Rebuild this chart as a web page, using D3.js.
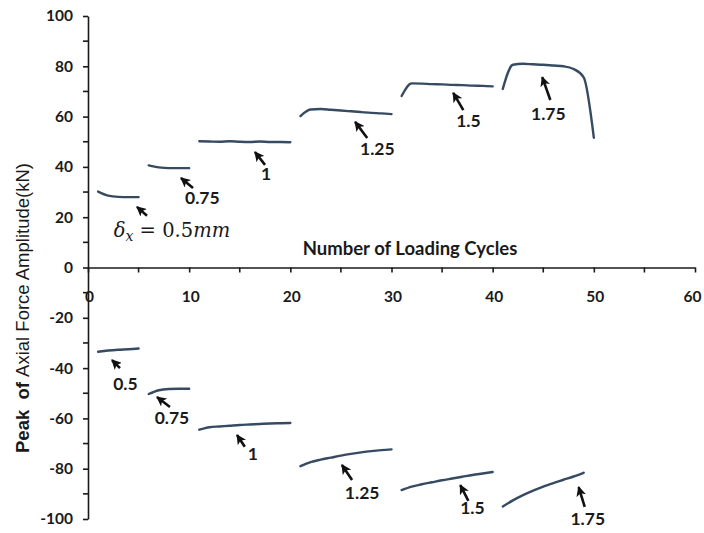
<!DOCTYPE html>
<html>
<head>
<meta charset="utf-8">
<script src="https://cdn.jsdelivr.net/npm/d3@7"></script>
<style>
  html, body { margin: 0; padding: 0; background: #fff; }
  svg { display: block; }
  .tick text { font-family: Lato, "Open Sans", sans-serif; font-weight: 700; font-size: 15.5px; fill: #1a1a1a; }
  .domain, .tick line { stroke: #1a1a1a; stroke-width: 1.6px; }
</style>
</head>
<body>
<svg id="chart" width="704" height="533"></svg>
<script>
// Peak axial force per loading cycle, grouped by imposed displacement level (mm)
const levels = ["0.5", "0.75", "1", "1.25", "1.5", "1.75"];

// Tension peaks (kN)
const tensionCycles = [
  [1, 2, 3, 4, 5],
  [6, 7, 8, 9, 10],
  [11, 12, 13, 14, 15, 16, 17, 18, 19, 20],
  [21, 22, 23, 24, 25, 26, 27, 28, 29, 30],
  [31, 32, 33, 34, 35, 36, 37, 38, 39, 40],
  [41, 42, 43, 44, 45, 46, 47, 48, 49, 50]
];
const tensionPeaks = [
  [30.2, 28.6, 28.1, 28.0, 28.0],
  [40.6, 39.8, 39.5, 39.5, 39.5],
  [50.2, 50.1, 50.0, 50.2, 50.0, 49.9, 50.1, 49.9, 49.9, 49.8],
  [60.2, 62.8, 63.0, 62.7, 62.4, 62.1, 61.8, 61.5, 61.3, 61.0],
  [68.2, 73.2, 73.1, 72.9, 72.8, 72.6, 72.5, 72.3, 72.2, 72.0],
  [71.0, 80.6, 81.0, 80.8, 80.6, 80.3, 80.0, 78.9, 75.6, 51.6]
];

// Compression peaks (kN)
const compressionCycles = [
  [1, 2, 3, 4, 5],
  [6, 7, 8, 9, 10],
  [11, 12, 13, 14, 15, 16, 17, 18, 19, 20],
  [21, 22, 23, 24, 25, 26, 27, 28, 29, 30],
  [31, 32, 33, 34, 35, 36, 37, 38, 39, 40],
  [41, 42, 43, 44, 45, 46, 47, 48, 49]
];
const compressionPeaks = [
  [-33.5, -33.0, -32.7, -32.5, -32.2],
  [-50.3, -48.8, -48.3, -48.2, -48.2],
  [-64.5, -63.5, -63.2, -62.9, -62.6, -62.4, -62.2, -62.0, -61.9, -61.8],
  [-79.0, -77.4, -76.4, -75.6, -74.8, -74.1, -73.5, -73.0, -72.6, -72.3],
  [-88.5, -87.1, -86.2, -85.4, -84.6, -83.9, -83.2, -82.5, -81.9, -81.3],
  [-95.0, -92.6, -90.5, -88.7, -87.1, -85.7, -84.4, -83.1, -81.6]
];

// Axis ticks
const xTicks = [0, 10, 20, 30, 40, 50, 60];
const xMinorTicks = [5, 15, 25, 35, 45, 55];
const yTicks = [-100, -80, -60, -40, -20, 0, 20, 40, 60, 80, 100];
const yMinorTicks = [-90, -70, -50, -30, -10, 10, 30, 50, 70, 90];

// Callouts: arrow tip, arrow tail and label anchor, in data units
const tensionCallouts = [
  { tip: [4.84, 24.1], tail: [5.83, 20.6], at: null },
  { tip: [9.19, 35.6], tail: [10.38, 31.6], at: [11.3, 25.2] },
  { tip: [16.5, 45.9], tail: [17.5, 40.8], at: [17.6, 34.8] },
  { tip: [26.4, 57.9], tail: [27.6, 51.5], at: [28.6, 44.6] },
  { tip: [36.1, 69.4], tail: [37.1, 62.6], at: [37.6, 55.8] },
  { tip: [44.9, 75.7], tail: [45.7, 66.6], at: [45.5, 58.6] }
];
const compressionCallouts = [
  { tip: [2.37, -36.8], tail: [3.16, -40.0], at: [3.7, -48.7] },
  { tip: [6.82, -51.5], tail: [8.1, -55.5], at: [8.3, -62.2] },
  { tip: [14.73, -66.6], tail: [15.5, -71.3], at: [16.3, -76.5] },
  { tip: [25.1, -78.5], tail: [26.1, -84.5], at: [27.1, -92.1] },
  { tip: [36.8, -86.5], tail: [37.6, -92.8], at: [38.0, -98.0] },
  { tip: [48.5, -87.3], tail: [49.1, -95.2], at: [49.4, -102.3] }
];
const displacementNote = { at: [8.3, 12.2] };

const svg = d3.select("#chart");

const x = d3.scaleLinear().domain([0, 60]).range([88, 695]);
const y = d3.scaleLinear().domain([-100, 100]).range([519, 16]);
const plain = d => String(d); // hyphen-minus for negatives

// Y axis
const yAxis = svg.append("g").attr("transform", `translate(${x(0)},0)`);
yAxis.call(d3.axisLeft(y).tickValues(yTicks).tickFormat(plain).tickSize(5).tickSizeOuter(0).tickPadding(10));
yAxis.append("g").selectAll("line").data(yMinorTicks).join("line")
  .attr("x1", -5).attr("x2", 0)
  .attr("y1", d => y(d)).attr("y2", d => y(d))
  .attr("stroke", "#1a1a1a").attr("stroke-width", 1.6);

// X axis drawn through zero
const xAxis = svg.append("g").attr("transform", `translate(0,${y(0)})`);
xAxis.call(d3.axisBottom(x).tickValues(xTicks).tickFormat(plain).tickSize(5).tickSizeOuter(0).tickPadding(18));
xAxis.selectAll(".tick text").attr("dx", d => d === 60 ? -3 : 1);
xAxis.append("g").selectAll("line").data(xMinorTicks).join("line")
  .attr("x1", d => x(d)).attr("x2", d => x(d))
  .attr("y1", 0).attr("y2", 5)
  .attr("stroke", "#1a1a1a").attr("stroke-width", 1.6);

// Axis titles
svg.append("text")
  .attr("x", 410).attr("y", 255)
  .attr("text-anchor", "middle")
  .style("font-family", "Lato, 'Open Sans', sans-serif")
  .style("font-weight", 700).style("font-size", "18.5px").attr("fill", "#1a1a1a")
  .text("Number of Loading Cycles");

const yTitle = svg.append("text")
  .attr("transform", "translate(29,308) rotate(-90)")
  .attr("text-anchor", "middle")
  .style("font-family", "'Liberation Sans', Arial, sans-serif")
  .style("font-size", "18.5px").attr("fill", "#1a1a1a");
yTitle.append("tspan").style("font-weight", 700).attr("xml:space", "preserve").text("Peak  of ");
yTitle.append("tspan").text("Axial Force Amplitude(kN)");

// Curves
const line = d3.line().x(d => x(d[0])).y(d => y(d[1])).curve(d3.curveMonotoneX);
const seriesColor = "#364b62";

const segments = [];
levels.forEach((lv, i) => {
  segments.push(d3.zip(tensionCycles[i], tensionPeaks[i]));
  segments.push(d3.zip(compressionCycles[i], compressionPeaks[i]));
});
svg.append("g").selectAll("path").data(segments).join("path")
  .attr("d", line)
  .attr("fill", "none")
  .attr("stroke", seriesColor)
  .attr("stroke-width", 2.4)
  .attr("stroke-linecap", "round");

// Arrow head
svg.append("defs").append("marker")
  .attr("id", "head")
  .attr("viewBox", "0 0 10 10")
  .attr("refX", 9).attr("refY", 5)
  .attr("markerWidth", 10).attr("markerHeight", 10)
  .attr("markerUnits", "userSpaceOnUse")
  .attr("orient", "auto")
  .append("path").attr("d", "M0,0 L10,5 L0,10 L2.5,5 Z").attr("fill", "#111");

const callouts = [
  ...tensionCallouts.map((c, i) => ({ ...c, label: levels[i] })),
  ...compressionCallouts.map((c, i) => ({ ...c, label: levels[i] }))
];

const notes = svg.append("g");
notes.selectAll("line").data(callouts).join("line")
  .attr("x1", d => x(d.tail[0])).attr("y1", d => y(d.tail[1]))
  .attr("x2", d => x(d.tip[0])).attr("y2", d => y(d.tip[1]))
  .attr("stroke", "#111").attr("stroke-width", 2.6)
  .attr("marker-end", "url(#head)");

notes.selectAll("text").data(callouts.filter(d => d.at)).join("text")
  .attr("x", d => x(d.at[0])).attr("y", d => y(d.at[1]))
  .attr("text-anchor", "middle")
  .style("font-family", "Lato, 'Open Sans', sans-serif")
  .style("font-weight", 700).style("font-size", "17.5px").attr("fill", "#1a1a1a")
  .text(d => d.label);

// Displacement label for the first level: δx = 0.5mm
const eq = svg.append("text")
  .attr("x", x(displacementNote.at[0])).attr("y", y(displacementNote.at[1]))
  .attr("text-anchor", "middle")
  .style("font-family", "'DejaVu Serif', 'Liberation Serif', serif")
  .style("font-size", "19.5px").attr("fill", "#1a1a1a");
eq.append("tspan").style("font-style", "italic").text("δ");
eq.append("tspan").style("font-style", "italic").style("font-size", "14px").attr("dy", 4).text("x");
eq.append("tspan").attr("dy", -4).text(" = 0.5");
eq.append("tspan").style("font-style", "italic").text("mm");
</script>
</body>
</html>
